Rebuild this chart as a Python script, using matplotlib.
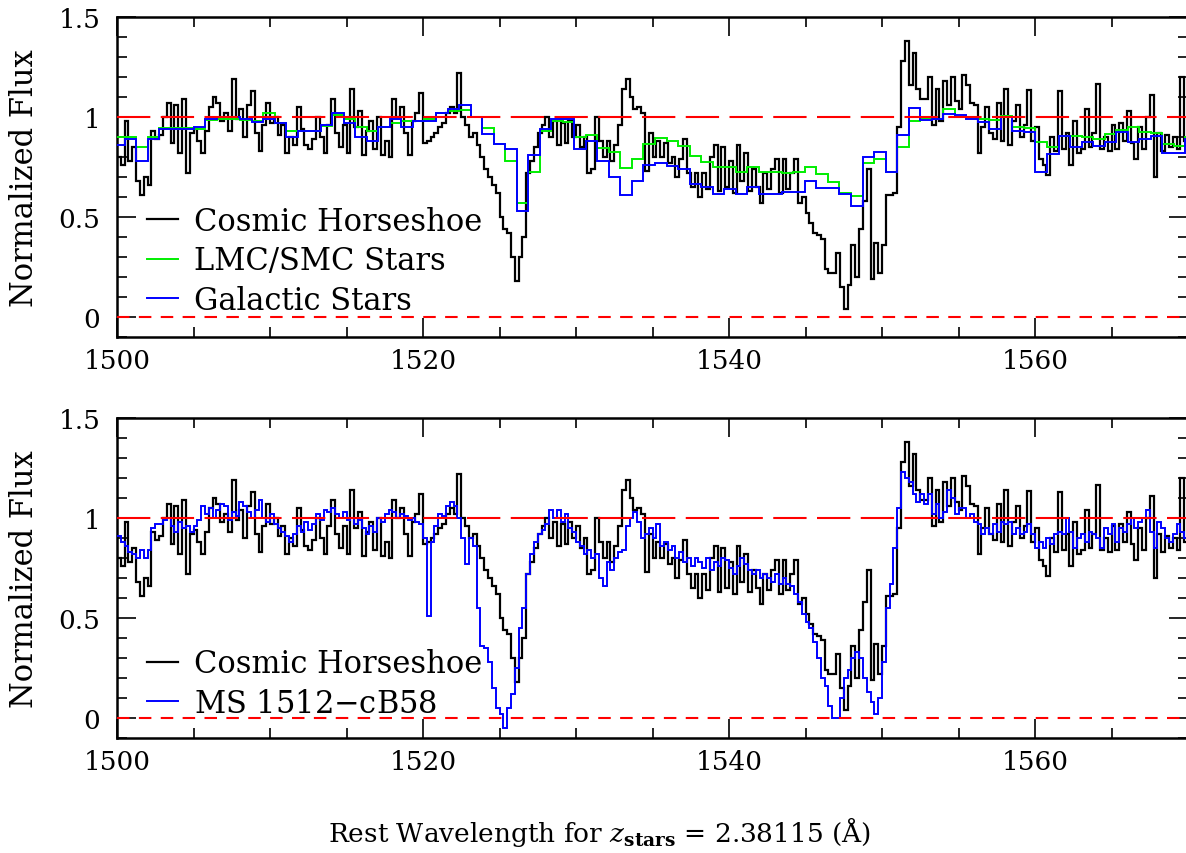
import numpy as np
import matplotlib
matplotlib.use("Agg")
import matplotlib.pyplot as plt
from matplotlib.ticker import MultipleLocator, FuncFormatter

plt.rcParams['font.family'] = ['DejaVu Serif']
plt.rcParams['mathtext.fontset'] = 'dejavuserif'

# observed spectra, 0.25 A pixels starting at 1500 A
wave_start = 1500.0
pix_step = 0.25

horseshoe = [
    0.80, 0.76, 0.98, 0.78, 0.85, 0.68, 0.61, 0.70, 0.66, 0.93,
    0.89, 0.91, 1.00, 1.07, 0.87, 1.06, 0.82, 1.09, 0.72, 0.92,
    0.94, 0.88, 0.82, 0.93, 1.05, 1.10, 1.07, 0.98, 1.02, 0.93,
    1.19, 0.99, 1.04, 0.90, 1.06, 1.13, 0.92, 0.83, 0.96, 1.07,
    0.97, 1.00, 0.91, 0.96, 0.82, 0.90, 0.86, 1.05, 0.94, 0.86,
    0.84, 0.89, 1.00, 0.90, 0.82, 0.96, 1.09, 0.92, 0.85, 0.96,
    0.82, 1.14, 0.95, 1.03, 0.81, 0.93, 0.98, 0.84, 1.00, 0.81,
    0.88, 0.80, 1.09, 1.00, 1.05, 0.92, 0.81, 0.98, 1.02, 1.12,
    0.87, 0.88, 0.90, 0.92, 0.95, 0.97, 1.02, 1.05, 1.02, 1.22,
    1.00, 0.96, 0.90, 0.92, 0.86, 0.80, 0.74, 0.70, 0.66, 0.62,
    0.50, 0.44, 0.42, 0.30, 0.18, 0.30, 0.40, 0.72, 0.78, 0.85,
    0.92, 0.96, 1.00, 0.90, 0.98, 0.86, 0.97, 0.87, 0.98, 0.90,
    0.96, 0.85, 0.90, 0.72, 0.74, 1.00, 0.88, 0.80, 0.88, 0.78,
    0.86, 0.96, 1.14, 1.19, 1.10, 1.04, 1.05, 1.02, 0.73, 0.92,
    0.80, 0.88, 0.80, 0.87, 0.77, 0.80, 0.70, 0.79, 0.89, 0.72,
    0.65, 0.72, 0.60, 0.72, 0.64, 0.80, 0.86, 0.63, 0.85, 0.65,
    0.78, 0.62, 0.86, 0.68, 0.82, 0.63, 0.74, 0.65, 0.57, 0.72,
    0.64, 0.74, 0.79, 0.62, 0.79, 0.64, 0.72, 0.79, 0.57, 0.60,
    0.52, 0.47, 0.42, 0.41, 0.39, 0.24, 0.22, 0.22, 0.32, 0.15,
    0.04, 0.16, 0.36, 0.20, 0.44, 0.58, 0.74, 0.19, 0.37, 0.22,
    0.36, 0.61, 0.61, 0.62, 0.95, 1.28, 1.38, 1.16, 1.32, 1.14,
    1.09, 1.09, 1.20, 0.96, 1.14, 0.98, 1.18, 1.06, 1.20, 1.08,
    1.04, 1.21, 1.16, 1.07, 1.06, 0.82, 0.95, 1.05, 0.92, 0.89,
    1.07, 0.88, 1.14, 0.86, 0.98, 1.06, 0.90, 0.96, 1.135, 0.88,
    0.95, 0.79, 0.76, 0.71, 0.90, 0.83, 1.13, 0.84, 0.92, 0.76,
    0.98, 0.82, 0.84, 1.04, 0.85, 0.92, 1.165, 0.84, 0.90, 0.83,
    0.96, 0.84, 0.97, 0.88, 1.03, 0.87, 0.79, 0.95, 0.84, 1.00,
    1.11, 0.70, 0.92, 0.83, 0.91, 0.85, 0.90, 0.84, 1.20, 0.88,
]

cb58 = [
    0.91, 0.88, 0.86, 0.83, 0.82, 0.80, 0.84, 0.80, 0.84, 0.95,
    0.97, 0.97, 0.99, 1.00, 0.96, 0.93, 0.98, 0.95, 0.96, 0.93,
    0.96, 0.99, 1.06, 1.02, 1.05, 1.00, 1.04, 1.07, 1.06, 0.99,
    1.03, 1.01, 1.08, 1.06, 1.03, 1.00, 1.04, 1.09, 1.00, 0.98,
    1.02, 0.97, 0.95, 0.93, 0.91, 0.88, 0.92, 0.96, 0.93, 0.98,
    0.94, 0.97, 1.02, 0.99, 1.04, 1.03, 1.05, 1.02, 1.00, 1.03,
    0.99, 1.00, 0.97, 0.99, 0.95, 0.92, 0.96, 0.93, 1.00, 0.98,
    1.02, 1.04, 1.03, 1.00, 1.02, 1.01, 0.99, 1.00, 0.98, 0.97,
    0.90, 0.51, 0.88, 0.96, 1.02, 1.01, 1.06, 1.08, 1.06, 1.00,
    0.90, 0.77, 0.90, 0.86, 0.55, 0.36, 0.35, 0.28, 0.15, 0.05,
    0.02, -0.05, 0.05, 0.12, 0.25, 0.45, 0.55, 0.72, 0.82, 0.88,
    0.92, 0.94, 0.97, 1.04, 1.00, 1.04, 0.98, 1.02, 0.95, 0.93,
    0.88, 0.86, 0.82, 0.84, 0.80, 0.82, 0.70, 0.66, 0.78, 0.74,
    0.80, 0.83, 0.84, 0.96, 1.00, 1.03, 0.98, 0.90, 0.92, 0.95,
    0.90, 0.97, 0.86, 0.88, 0.84, 0.86, 0.80, 0.83, 0.78, 0.80,
    0.76, 0.80, 0.78, 0.75, 0.80, 0.74, 0.78, 0.76, 0.80, 0.79,
    0.75, 0.72, 0.76, 0.80, 0.77, 0.74, 0.72, 0.74, 0.70, 0.72,
    0.70, 0.68, 0.72, 0.67, 0.70, 0.67, 0.66, 0.62, 0.58, 0.52,
    0.48, 0.45, 0.38, 0.30, 0.20, 0.16, 0.06, 0.00, 0.00, 0.10,
    0.20, 0.24, 0.30, 0.33, 0.30, 0.20, 0.13, 0.08, 0.02, 0.10,
    0.28, 0.55, 0.67, 0.85, 1.05, 1.23, 1.20, 1.18, 1.12, 1.08,
    1.12, 1.07, 1.12, 1.02, 1.07, 1.00, 1.03, 1.14, 1.10, 1.02,
    1.05, 1.05, 1.00, 1.02, 0.98, 0.97, 0.92, 0.95, 0.92, 0.97,
    0.93, 0.98, 0.97, 0.98, 0.92, 0.95, 0.92, 0.93, 0.97, 0.92,
    0.85, 0.88, 0.85, 0.90, 0.87, 0.92, 0.93, 0.92, 1.00, 0.93,
    0.85, 0.90, 0.92, 0.88, 0.93, 0.92, 0.90, 0.85, 0.95, 0.92,
    0.97, 0.88, 0.95, 0.93, 0.97, 1.00, 0.95, 0.98, 1.00, 1.04,
    0.93, 0.85, 0.98, 0.95, 0.90, 0.88, 0.92, 0.97, 0.93, 0.90,
]

# model spectra, coarser bins
model_start = 1499.75
model_step = 0.7535

lmc_smc = [
    0.90, 0.90, 0.85, 0.90, 0.945, 0.945, 0.945, 0.94, 0.985, 0.99,
    0.99, 0.985, 0.98, 1.02, 0.97, 0.93, 0.93, 0.93, 0.955, 1.01,
    0.99, 0.95, 0.93, 0.95, 0.97, 0.98, 0.98, 0.99, 1.02, 1.03,
    1.035, 1.00, 0.943, 0.865, 0.78, 0.57, 0.723, 0.93, 0.98, 0.975,
    0.90, 0.91, 0.843, 0.823, 0.743, 0.79, 0.865, 0.893, 0.88, 0.857,
    0.807, 0.777, 0.748, 0.748, 0.727, 0.752, 0.727, 0.723, 0.72, 0.727,
    0.748, 0.715, 0.677, 0.62, 0.603, 0.77, 0.79, 0.723, 0.848, 0.98,
    0.993, 0.99, 1.04, 1.00, 0.995, 0.99, 0.985, 1.007, 0.948, 0.945,
    0.873, 0.852, 0.907, 0.905, 0.898, 0.89, 0.915, 0.937, 0.948, 0.927,
    0.92, 0.865, 0.857, 0.90,
]

galactic = [
    0.86, 0.89, 0.78, 0.89, 0.94, 0.94, 0.94, 0.95, 0.99, 1.00,
    1.00, 0.99, 0.975, 0.99, 0.97, 0.90, 0.93, 0.93, 0.96, 1.02,
    0.97, 0.90, 0.88, 0.95, 0.99, 0.95, 0.98, 0.98, 1.02, 1.04,
    1.06, 1.00, 0.915, 0.865, 0.84, 0.53, 0.81, 0.94, 0.99, 0.99,
    0.84, 0.88, 0.78, 0.70, 0.61, 0.68, 0.76, 0.77, 0.757, 0.74,
    0.665, 0.65, 0.615, 0.64, 0.615, 0.65, 0.615, 0.615, 0.627, 0.625,
    0.68, 0.645, 0.645, 0.615, 0.557, 0.80, 0.823, 0.723, 0.91, 1.045,
    0.987, 0.99, 1.015, 1.01, 0.99, 0.977, 0.94, 0.998, 0.93, 0.923,
    0.723, 0.815, 0.907, 0.848, 0.873, 0.857, 0.877, 0.927, 0.877, 0.89,
    0.903, 0.82, 0.82, 0.89,
]

pix_edges = wave_start + pix_step * np.arange(len(horseshoe) + 1)
model_edges = model_start + model_step * np.arange(len(lmc_smc) + 1)

W, H = 1186, 854
fig = plt.figure(figsize=(W / 100, H / 100), dpi=100)
ax1 = fig.add_axes([117 / W, 1 - 338 / H, 1071 / W, 320 / H])
ax2 = fig.add_axes([117 / W, 1 - 739 / H, 1071 / W, 320 / H])

for ax in (ax1, ax2):
    ax.axhline(1, color='red', lw=1.5, dashes=(16, 5), zorder=5)
    ax.axhline(0, color='red', lw=1.5, dashes=(6, 4.5), zorder=5)
    ax.set_xlim(1500, 1570)
    ax.set_ylim(-0.1, 1.5)
    ax.xaxis.set_major_locator(MultipleLocator(20))
    ax.xaxis.set_minor_locator(MultipleLocator(5))
    ax.yaxis.set_major_locator(MultipleLocator(0.5))
    ax.yaxis.set_minor_locator(MultipleLocator(0.1))
    ax.yaxis.set_major_formatter(FuncFormatter(lambda v, p: '%g' % v))
    ax.tick_params(which='both', direction='in', top=True, right=True,
                   width=1.2, labelsize=19)
    ax.tick_params(which='major', length=14, pad=8)
    ax.tick_params(which='minor', length=7)
    ax.tick_params(axis='y', pad=12)
    for s in ax.spines.values():
        s.set_linewidth(1.8)

# top panel
ax1.stairs(horseshoe, pix_edges, baseline=None, color='black', lw=1.6,
           label='Cosmic Horseshoe', zorder=2)
ax1.stairs(lmc_smc, model_edges, baseline=None, color='#00ee00', lw=1.4,
           label='LMC/SMC Stars', zorder=3)
ax1.stairs(galactic, model_edges, baseline=None, color='#0000ff', lw=1.4,
           label='Galactic Stars', zorder=4)
ax1.legend(loc='lower left', bbox_to_anchor=(0.028, 0.066), frameon=False,
           fontsize=22, handlelength=1.0, handletextpad=0.55,
           labelspacing=0.28, borderpad=0, borderaxespad=0)

# bottom panel
ax2.stairs(horseshoe, pix_edges, baseline=None, color='black', lw=1.6,
           label='Cosmic Horseshoe', zorder=2)
ax2.stairs(cb58, pix_edges, baseline=None, color='#0000ff', lw=1.4,
           label='MS 1512$-$cB58', zorder=3)
ax2.legend(loc='lower left', bbox_to_anchor=(0.028, 0.06), frameon=False,
           fontsize=22, handlelength=1.0, handletextpad=0.55,
           labelspacing=0.28, borderpad=0, borderaxespad=0)

fig.text(25 / W, 1 - 178 / H, 'Normalized Flux', rotation=90, fontsize=22,
         ha='center', va='center')
fig.text(25 / W, 1 - 579 / H, 'Normalized Flux', rotation=90, fontsize=22,
         ha='center', va='center')
fig.text(599 / W, 1 - 832 / H,
         r'Rest Wavelength for $z_{\mathbf{stars}}$ = 2.38115 (Å)',
         fontsize=19, ha='center', va='center')

fig.savefig('out.png', dpi=100)
